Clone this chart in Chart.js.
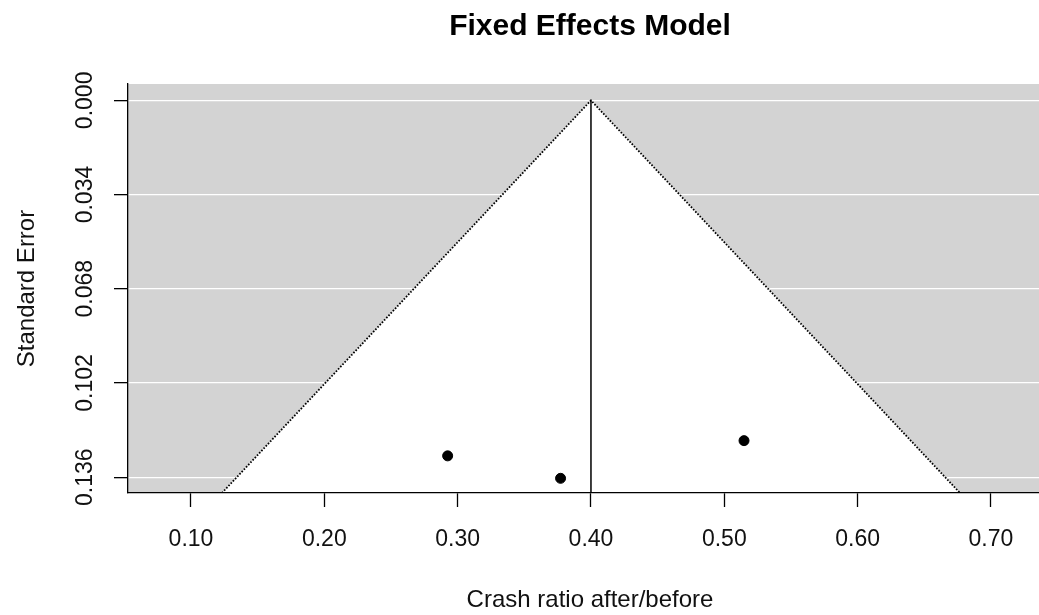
<!DOCTYPE html>
<html>
<head>
<meta charset="utf-8">
<script src="https://cdn.jsdelivr.net/npm/chart.js@4/dist/chart.umd.min.js"></script>
<style>
  html, body { margin:0; padding:0; background:#fff; overflow:hidden; }
  #wrap { width:1180px; height:615px; }
</style>
</head>
<body>
<div id="wrap"><canvas id="funnel" width="1180" height="615"></canvas></div>
<script>
// studies: crash ratio after/before and standard error
const studyRatio = [0.2925, 0.3772, 0.5148];
const studySE = [0.1283, 0.1364, 0.1228];

// pooled estimate and funnel (pseudo 95% limits) edges
const pooledRatio = 0.40;
const funnelX = [0.1232, 0.40, 0.6768];
const funnelSE = [0.1417, 0, 0.1417];

// axes
const xTicks = [0.10, 0.20, 0.30, 0.40, 0.50, 0.60, 0.70];
const seTicks = [0.000, 0.034, 0.068, 0.102, 0.136];
const xRange = [0.05275, 0.7458];
const seRange = [-0.0059, 0.1417];

const FONT = 'Liberation Sans, Arial, sans-serif';

// fondo grigio + etichette asse y ruotate (come R)
const rPlot = {
    id: 'rPlot',
    beforeDraw(chart){
        const {ctx, chartArea:a} = chart;
        ctx.save();
        ctx.fillStyle = '#d3d3d3';
        ctx.fillRect(a.left, a.top, a.right - a.left, a.bottom - a.top);
        ctx.restore();
    },
    afterDraw(chart){
        const {ctx} = chart;
        const y = chart.scales.y;
        ctx.save();
        ctx.fillStyle = '#111';
        ctx.font = `23px ${FONT}`;
        ctx.textAlign = 'center';
        ctx.textBaseline = 'middle';
        seTicks.forEach(v => {
            ctx.save();
            ctx.translate(86, y.getPixelForValue(v));
            ctx.rotate(-Math.PI/2);
            ctx.fillText(v.toFixed(3), 0, 0);
            ctx.restore();
        });
        ctx.restore();
    }
};

new Chart(document.getElementById('funnel'), {
    type:'scatter',
    data:{
        datasets:[
            {
                label:'studies',
                data: studyRatio.map((r,i)=>({x:r, y:studySE[i]})),
                backgroundColor:'#000',
                borderColor:'#000',
                pointRadius:5,
                pointHoverRadius:5
            },
            {
                type:'line',
                label:'pooled',
                data:[{x:pooledRatio, y:0}, {x:pooledRatio, y:seRange[1]}],
                borderColor:'#000',
                borderWidth:1.5,
                pointRadius:0,
                fill:false
            },
            {
                type:'line',
                label:'funnel',
                data: funnelX.map((x,i)=>({x, y:funnelSE[i]})),
                borderColor:'#000',
                borderWidth:1.8,
                borderDash:[1.6,1.6],
                backgroundColor:'#fff',
                pointRadius:0,
                tension:0,
                fill:'start'
            }
        ]
    },
    options:{
        responsive:false,
        animation:false,
        devicePixelRatio:1,
        layout:{ padding:{ left:0, right:128, top:0, bottom:0 } },
        plugins:{
            legend:{ display:false },
            tooltip:{ enabled:false },
            title:{
                display:true,
                fullSize:false,
                text:'Fixed Effects Model',
                color:'#000',
                font:{ family:FONT, size:30, weight:'bold' },
                padding:{ top:9, bottom:39 }
            }
        },
        scales:{
            x:{
                type:'linear',
                min:xRange[0], max:xRange[1],
                afterBuildTicks: s => { s.ticks = xTicks.map(v=>({value:v})); },
                afterFit: s => { s.height = 122; },
                grid:{ drawOnChartArea:false, tickColor:'#000', tickLength:14, tickWidth:1.3 },
                border:{ display:true, color:'#000', width:1.3, z:1 },
                ticks:{
                    color:'#111',
                    font:{ family:FONT, size:23 },
                    padding:19,
                    maxRotation:0,
                    callback: v => v.toFixed(2)
                },
                title:{
                    display:true,
                    text:'Crash ratio after/before',
                    color:'#111',
                    font:{ family:FONT, size:24 },
                    padding:{ top:0, bottom:0 }
                }
            },
            y:{
                type:'linear',
                reverse:true,
                min:seRange[0], max:seRange[1],
                afterBuildTicks: s => { s.ticks = seTicks.map(v=>({value:v})); },
                afterFit: s => { s.width = 128; },
                grid:{ color:'#fff', lineWidth:1.3, tickColor:'#000', tickLength:14, tickWidth:1.3 },
                border:{ display:true, color:'#000', width:1.3, z:1 },
                ticks:{ display:false },
                title:{
                    display:true,
                    text:'Standard Error',
                    color:'#111',
                    font:{ family:FONT, size:24 },
                    padding:{ top:13, bottom:0 }
                }
            }
        }
    },
    plugins:[rPlot]
});
</script>
</body>
</html>
